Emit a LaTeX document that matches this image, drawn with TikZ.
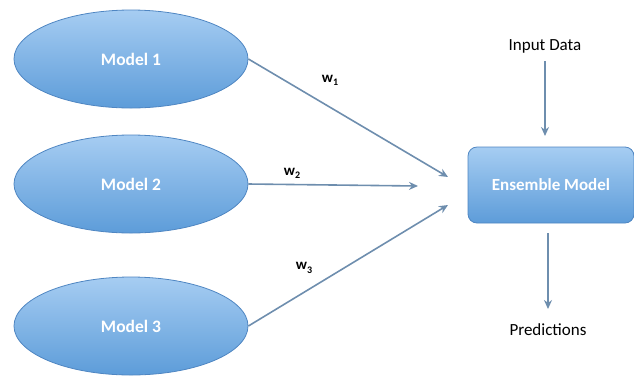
\documentclass[tikz,border=0pt]{standalone}
\usepackage{fontspec}
\setmainfont{Carlito}
\usetikzlibrary{shapes.geometric,arrows.meta}
\definecolor{fillTop}{HTML}{A6CDF2}
\definecolor{fillBot}{HTML}{5D9CD9}
\definecolor{edge}{HTML}{4F86C2}
\definecolor{arr}{HTML}{6E8EAE}
\newcommand{\wsub}[1]{w\raisebox{-0.45ex}{\fontsize{10}{10}\selectfont #1}}
\tikzset{
  model/.style={ellipse, draw=edge, line width=0.8pt, top color=fillTop, bottom color=fillBot,
    minimum width=234pt, minimum height=98pt, inner sep=0pt, text=white, font=\fontsize{17.5}{20}\selectfont\bfseries},
  ensbox/.style={rectangle, rounded corners=9pt, draw=edge, line width=0.8pt, top color=fillTop, bottom color=fillBot,
    minimum width=166pt, minimum height=76pt, inner sep=0pt, text=white, font=\fontsize{17}{20}\selectfont\bfseries},
  lbl/.style={text=black, font=\fontsize{17}{20}\selectfont, inner sep=1pt},
  wl/.style={text=black, font=\fontsize{15}{17}\selectfont\bfseries, inner sep=1pt},
  conn/.style={draw=arr, line width=1.6pt, -{Stealth[length=9pt,width=8pt]}}
}
\begin{document}
\begin{tikzpicture}[x=1pt,y=-1pt]
\useasboundingbox (0,0) rectangle (634,376);
\node[model] (m1) at (131,59) {Model 1};
\node[model] (m2) at (131,184) {Model 2};
\node[model] (m3) at (131,326) {Model 3};
\node[ensbox] (ens) at (551,185) {Ensemble Model};
\node[lbl] (inp) at (545,46) {Input Data};
\node[lbl] (pred) at (548,330) {Predictions};
\coordinate (e1) at (448,177);
\coordinate (e2) at (418,186);
\coordinate (e3) at (448,205);
\coordinate (i0) at (545,61);
\coordinate (i1) at (545,136);
\coordinate (p0) at (548,233);
\coordinate (p1) at (548,309);
\draw[conn] (m1.east) -- (e1);
\draw[conn] (m2.east) -- (e2);
\draw[conn] (m3.east) -- (e3);
\draw[conn] (i0) -- (i1);
\draw[conn] (p0) -- (p1);
\node[wl] (w1) at (330,80) {\wsub{1}};
\node[wl] (w2) at (292,173) {\wsub{2}};
\node[wl] (w3) at (304,268) {\wsub{3}};
\end{tikzpicture}
\end{document}
